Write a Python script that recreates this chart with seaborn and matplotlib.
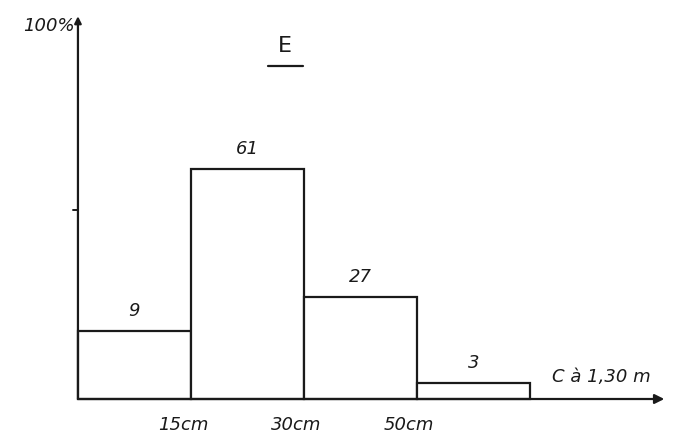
import matplotlib
matplotlib.use('Agg')
import matplotlib.pyplot as plt
import seaborn as sns

# class edges (bar index), drawn heights (% scale) and the written values
edges = [0, 1, 2, 3, 4]
heights = [18, 61, 27, 4.2]
values = ['9', '61', '27', '3']
tick_labels = ['15cm', '30cm', '50cm']

sns.set_style('white')
plt.rcParams['font.family'] = ['DejaVu Sans']

fig = plt.figure(figsize=(6.88, 4.42), dpi=100)
ax = fig.add_axes([0, 0, 1, 1])

mids = [e + 0.5 for e in edges[:-1]]
sns.histplot(x=mids, weights=heights, bins=edges, ax=ax, stat='count',
             color='white', edgecolor='#1a1a1a', linewidth=1.6, alpha=1)

ax.set_xlim(-0.69, 5.40)
ax.set_ylim(-11.4, 105.8)
for s in ax.spines.values():
    s.set_visible(False)
ax.set_xticks([])
ax.set_yticks([])
ax.set_xlabel('')
ax.set_ylabel('')

# axes with arrows
ax.annotate('', xy=(5.19, 0), xytext=(0, 0),
            arrowprops=dict(arrowstyle='-|>', color='#1a1a1a', lw=1.6,
                            mutation_scale=14, shrinkA=0, shrinkB=0))
ax.annotate('', xy=(0, 101.5), xytext=(0, 0),
            arrowprops=dict(arrowstyle='-|>', color='#1a1a1a', lw=1.6,
                            mutation_scale=10, shrinkA=0, shrinkB=0))
ax.plot([-0.04, 0], [50, 50], color='#1a1a1a', lw=1.4)

txt = dict(color='#1a1a1a', fontstyle='italic', fontsize=13)
for m, h, v in zip(mids, heights, values):
    ax.text(m, h + 3, v, ha='center', va='bottom', **txt)

for e, lab in zip(edges[1:4], tick_labels):
    ax.text(e - 0.07, -4.5, lab, ha='center', va='top', **txt)

ax.text(4.2, 3.5, 'C à 1,30 m', ha='left', va='bottom', **txt)
ax.text(-0.03, 99, '100%', ha='right', va='center', **txt)

ax.text(1.83, 93.5, 'E', ha='center', va='center', fontsize=16, color='#1a1a1a')
ax.plot([1.68, 1.99], [88.3, 88.3], color='#1a1a1a', lw=1.6)

fig.savefig('out.png', dpi=100, facecolor='white')
